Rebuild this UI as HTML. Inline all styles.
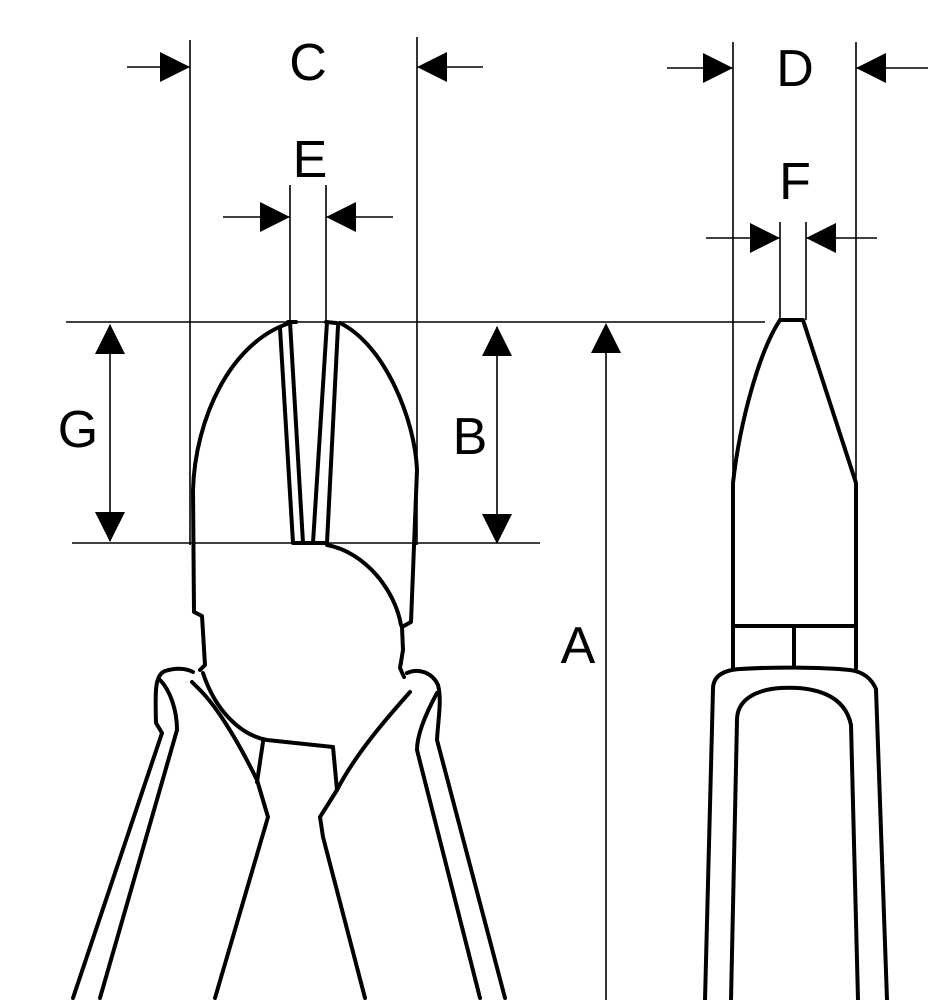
<!DOCTYPE html>
<html><head><meta charset="utf-8"><style>html,body{margin:0;padding:0;background:#fff}svg{display:block}</style></head>
<body>
<svg width="939" height="1000" viewBox="0 0 939 1000" xmlns="http://www.w3.org/2000/svg">
<g stroke="#000" stroke-width="1.6" fill="none">
<line x1="190" y1="40" x2="190" y2="545"/>
<line x1="417" y1="37" x2="417" y2="545"/>
<line x1="290" y1="185" x2="290" y2="322"/>
<line x1="326" y1="185" x2="326" y2="322"/>
<line x1="733" y1="42" x2="733" y2="485"/>
<line x1="856" y1="42" x2="856" y2="485"/>
<line x1="780" y1="222" x2="780" y2="320"/>
<line x1="806" y1="222" x2="806" y2="320"/>
<line x1="66" y1="322" x2="765" y2="322"/>
<line x1="72" y1="543" x2="540" y2="543"/>
<line x1="127" y1="67" x2="190" y2="67"/>
<line x1="417" y1="67" x2="483" y2="67"/>
<line x1="667" y1="68" x2="733" y2="68"/>
<line x1="856" y1="68" x2="928" y2="68"/>
<line x1="223" y1="217" x2="290" y2="217"/>
<line x1="326" y1="217" x2="393" y2="217"/>
<line x1="706" y1="238" x2="780" y2="238"/>
<line x1="806" y1="238" x2="877" y2="238"/>
<line x1="110" y1="325" x2="110" y2="541"/>
<line x1="497" y1="327" x2="497" y2="543"/>
<line x1="606" y1="325" x2="606" y2="1000"/>
</g>
<g fill="#000">
<polygon points="190,67 160,52 160,82"/>
<polygon points="417,67 447,52 447,82"/>
<polygon points="733,68 703,53 703,83"/>
<polygon points="856,68 886,53 886,83"/>
<polygon points="290,217 260,202 260,232"/>
<polygon points="326,217 356,202 356,232"/>
<polygon points="780,238 750,223 750,253"/>
<polygon points="806,238 836,223 836,253"/>
<polygon points="110,324 95,354 125,354"/>
<polygon points="110,542 95,512 125,512"/>
<polygon points="497,326 482,356 512,356"/>
<polygon points="497,544 482,514 512,514"/>
<polygon points="606,323 591,353 621,353"/>
</g>
<g font-family="Liberation Sans, sans-serif" font-size="52" text-anchor="middle" fill="#000">
<text x="308" y="80">C</text>
<text x="795" y="86">D</text>
<text x="310" y="177">E</text>
<text x="795" y="199">F</text>
<text x="78" y="447">G</text>
<text x="470" y="454">B</text>
<text x="578" y="663">A</text>
</g>
<g stroke="#000" stroke-width="4" fill="none" stroke-linejoin="round" stroke-linecap="round">
<!-- left jaw -->
<path d="M293,322 C230,340 195,420 193,490 L194,612 L202,616 L205,665 L200,670"/>
<path d="M340,323 C385,345 415,420 417,470 L411,622 L402,627 L403,650 L400,668 L404,677"/>
<path d="M280,328 L293,543 L327,543 L338,326"/>
<path d="M290,322 L303,543 M327,322 L313,543 M288,322 L296,322 M326,322 L336,323"/>
<path d="M327,545 C365,552 395,590 401,625"/>
<!-- bowl -->
<path d="M203,673 C215,710 240,735 267,740 L333,747"/>
<path d="M263,742 L257,782 M333,747 L337,790"/>
<!-- left handle -->
<path d="M193,672 C185,668 175,668 165,671 C155,675 155,690 156,723 L162,733 L73,998"/>
<path d="M160,680 C170,690 177,710 177,730 L100,998"/>
<path d="M192,682 L200,690 C215,705 235,735 257,780 L268,817 L215,998"/>
<!-- right handle -->
<path d="M407,673 C418,668 432,672 438,685 C442,700 438,720 437,740 L505,998"/>
<path d="M437,693 C425,715 417,735 417,750 L480,998"/>
<path d="M410,692 C385,720 355,755 337,790 L320,817 L323,837 L365,998"/>
<!-- right plier -->
<path d="M780,320 L803,320 L856,483 L856,668 M780,320 C760,350 740,420 733,483 L733,668"/>
<path d="M733,626 L856,626 M794,626 L794,666"/>
<path d="M705,1000 L713,689 C713,675 725,670 740,669 C770,667 820,667 850,670 C865,672 872,680 876,689 L887,1000"/>
<path d="M731,1000 L737,720 C737,700 755,690 780,688 C815,686 845,695 851,725 L858,1000"/>
</g>
</svg>
</body></html>
